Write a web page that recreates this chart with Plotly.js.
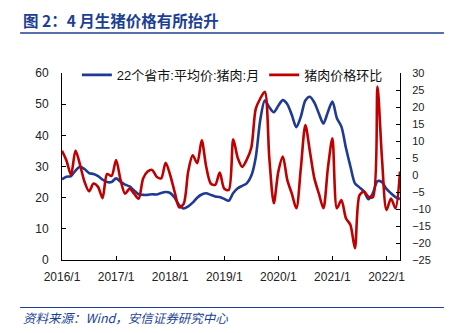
<!DOCTYPE html>
<html>
<head>
<meta charset="utf-8">
<script src="https://cdn.plot.ly/plotly-3.0.1.min.js"></script>
<style>html,body{margin:0;padding:0;background:#fff;}#chart{width:455px;height:333px;}</style>
</head>
<body>
<div id="chart"></div>
<script>
// Month categories 2016/1 .. 2022/4
var years = [2016, 2017, 2018, 2019, 2020, 2021, 2022];
var months = [];
years.forEach(function (y) {
  var last = (y === 2022) ? 4 : 12;
  for (var m = 1; m <= last; m++) months.push(y + '/' + m);
});
var tickLabels = ['2016/1', '2017/1', '2018/1', '2019/1', '2020/1', '2021/1', '2022/1'];

// 22个省市:平均价:猪肉:月 (元/公斤, left axis)
var porkPrice = [
  25.9, 26.7, 26.9, 28.7, 29.9, 29.2, 27.9, 27.6, 26.9, 25.8, 25.0, 25.0,
  26.2, 25.1, 24.2, 23.6, 22.3, 21.1, 20.9, 20.9, 21.1, 21.0, 21.5, 21.8,
  21.5, 20.0, 17.6, 16.5, 17.2, 18.4, 20.0, 21.0, 21.4, 20.9, 20.4, 20.2,
  19.6, 19.0, 21.5, 23.0, 23.8, 24.6, 27.0, 33.0, 45.0, 51.2, 49.0, 47.4,
  49.5, 51.3, 50.0, 46.5, 42.6, 46.0, 51.2, 52.4, 50.5, 47.0, 43.8, 47.5,
  50.8, 45.5, 42.8, 36.0, 30.0, 24.6, 23.3, 22.0, 19.5, 21.5, 25.3, 25.0,
  22.8, 21.4, 20.2, 19.6
];
// 猪肉价格环比 (%, right axis)
var porkMoM = [
  7.1, 4.2, 0.0, 7.2, 3.0, -2.0, -4.8, -2.5, -3.5, -6.8, 0.3, -0.3,
  4.4, -1.5, -5.5, -4.0, -5.5, -7.0, -1.0, 1.0, 1.5, -0.5, -1.0, 3.6,
  0.0, -5.0, -9.5, -8.5, 1.0, 5.8, 3.5, 10.2, 2.4, -2.5, -2.9, 0.7,
  -4.0, -4.4, 10.5, 5.0, 2.4, 4.5, 8.0, 19.5, 22.5, 24.5, 5.0, -8.3,
  1.0, 5.4, -1.5, -5.5, -9.8, 2.0, 14.7, 7.0, -1.0, -5.5, -9.8, 2.0,
  10.8, -9.8, -7.4, -12.7, -14.7, -21.5, -6.0, -4.9, -6.4, -6.5, 26.0, 4.9,
  -10.3, -6.9, -9.8, 1.0
];

var titleText = '图 2：4 月生猪价格有所抬升';
var sourceText = '资料来源：Wind，安信证券研究中心';
var seriesNames = ['22个省市:平均价:猪肉:月', '猪肉价格环比'];

var navy = '#1c3f94';
var traces = [
  {x: months, y: porkPrice, name: seriesNames[0], type: 'scatter', mode: 'lines',
   line: {color: '#1f3a93', width: 2.6, shape: 'spline', smoothing: 0.8}, yaxis: 'y'},
  {x: months, y: porkMoM, name: seriesNames[1], type: 'scatter', mode: 'lines',
   line: {color: '#c00000', width: 2.6, shape: 'spline', smoothing: 0.8}, yaxis: 'y2'}
];

var tickFont = {family: 'Liberation Sans, Arial, sans-serif', size: 12, color: '#222'};
var layout = {
  width: 455, height: 333,
  margin: {l: 62, r: 55, t: 73, b: 73, pad: 0},
  paper_bgcolor: '#fff', plot_bgcolor: '#fff',
  showlegend: true,
  legend: {orientation: 'h', x: 0.044, xanchor: 'left', y: 1.07, yanchor: 'top',
           bgcolor: 'rgba(0,0,0,0)', font: {family: 'Liberation Sans, Noto Sans CJK SC, sans-serif', size: 13, color: '#111'},
           itemwidth: 30, tracegroupgap: 0},
  xaxis: {type: 'category', range: [0, months.length - 1], tickmode: 'array', tickvals: tickLabels, ticktext: tickLabels,
          showgrid: false, zeroline: false, showline: true, linecolor: '#000', linewidth: 1,
          ticks: 'inside', ticklen: 4, tickcolor: '#000', tickfont: tickFont, ticklabelstandoff: 6},
  yaxis: {range: [0, 60], dtick: 10, showgrid: false, zeroline: false, showline: true, linecolor: '#000', linewidth: 1,
          ticks: 'inside', ticklen: 4, tickcolor: '#000', tickfont: tickFont, ticklabelstandoff: 10},
  yaxis2: {range: [-25, 30], dtick: 5, overlaying: 'y', side: 'right', showgrid: false, zeroline: false,
           showline: true, linecolor: '#000', linewidth: 1, ticks: 'inside', ticklen: 4, tickcolor: '#000',
           tickfont: {family: 'Liberation Sans, Arial, sans-serif', size: 11, color: '#222'}, ticklabelstandoff: 9},
  shapes: [
    {type: 'line', xref: 'paper', yref: 'paper', x0: -0.124, x1: 1.130, y0: 1.214, y1: 1.214, line: {color: navy, width: 1.5}},
    {type: 'line', xref: 'paper', yref: 'paper', x0: -0.124, x1: 1.130, y0: -0.254, y1: -0.254, line: {color: navy, width: 1.2}}
  ],
  annotations: [
    {text: '<b>' + titleText + '</b>', xref: 'paper', yref: 'paper', x: -0.12, y: 1.285, xanchor: 'left', yanchor: 'middle',
     showarrow: false, font: {family: 'Noto Sans CJK SC, sans-serif', size: 15.5, color: navy}},
    {text: '<i>' + sourceText + '</i>', xref: 'paper', yref: 'paper', x: -0.12, y: -0.31, xanchor: 'left', yanchor: 'middle',
     showarrow: false, font: {family: 'Noto Sans CJK SC, sans-serif', size: 12.5, color: navy}}
  ]
};

Plotly.newPlot('chart', traces, layout, {displayModeBar: false, staticPlot: true});
</script>
</body>
</html>
